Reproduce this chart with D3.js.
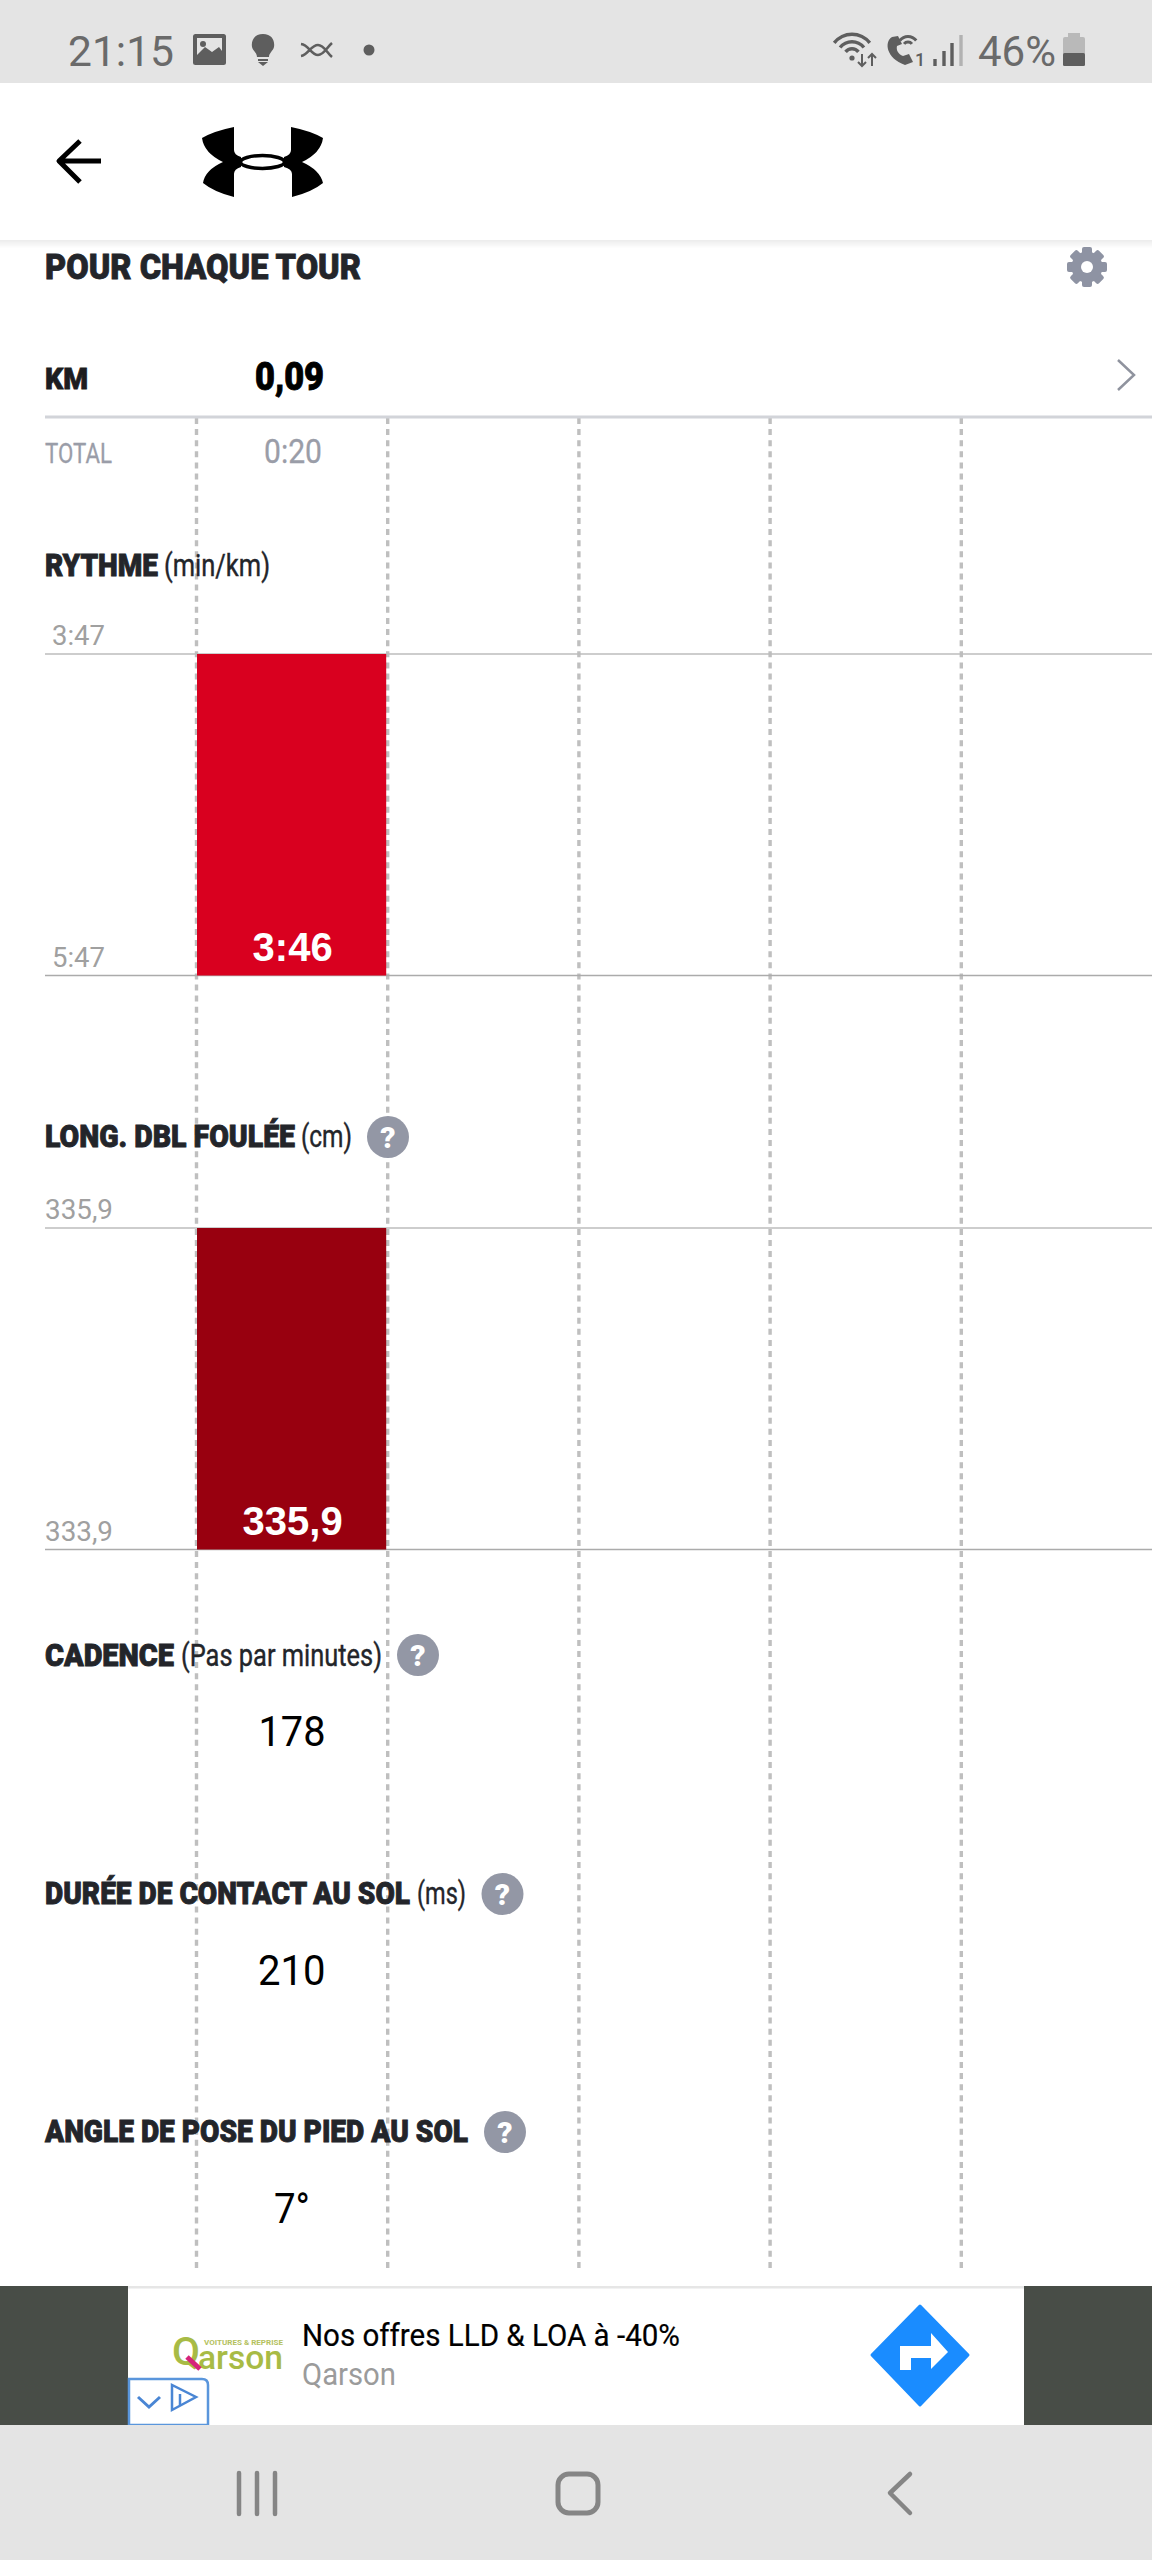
<!DOCTYPE html>
<html><head><meta charset="utf-8">
<style>html,body{margin:0;padding:0;background:#fff}svg{display:block}text{font-family:Roboto,sans-serif}</style>
<script src="https://cdn.jsdelivr.net/npm/d3@7"></script></head><body>
<svg id="c" width="1152" height="2560" viewBox="0 0 1152 2560"></svg>
<script>
// ---- data ----
const lapColumns = [0,1,2,3,4];
const lapKm = ["0,09"];
const lapTotal = ["0:20"];
const paceSeconds = [226];
const paceLabels = ["3:46"];
const paceTicks = ["3:47","5:47"];
const paceDomain = [227,347];
const strideValues = [335.9];
const strideLabels = ["335,9"];
const strideTicks = ["335,9","333,9"];
const strideDomain = [335.9,333.9];
const cadenceValues = ["178"];
const contactValues = ["210"];
const angleValues = ["7°"];

const svg = d3.select("#c");
const X = d3.scaleLinear().domain([0,5]).range([196,1152]);
const GRAY="#9a9da8", DARK="#23252a", DASH="#bfbfbf";

function txt(s,x,y,size,fill,opt={}){
  const t=svg.append("text").attr("x",x).attr("y",y).attr("font-size",size).attr("fill",fill).text(s);
  t.attr("font-weight",opt.w||400);
  if(opt.f) t.style("font-family",opt.f);
  if(opt.s) t.attr("stroke",fill).attr("stroke-width",opt.s);
  if(opt.len){t.attr("textLength",opt.len).attr("lengthAdjust","spacingAndGlyphs");}
  if(opt.a) t.attr("text-anchor",opt.a);
  return t;
}

// --- grid ---
svg.append("g").selectAll("line").data(lapColumns).join("line")
  .attr("x1",d=>X(d)+.5).attr("x2",d=>X(d)+.5).attr("y1",418).attr("y2",2268)
  .attr("stroke",DASH).attr("stroke-width",3.4).attr("stroke-dasharray","6 5.108");

// --- km row ---
svg.append("rect").attr("x",45).attr("y",415.5).attr("width",1107).attr("height",3).attr("fill","#d2d4d9");
txt("POUR CHAQUE TOUR",45,279,35,DARK,{w:900,len:316,s:.8});
txt("KM",45,389,30,"#1c1d20",{w:900,len:43,s:.8});
txt(lapKm[0],255,390,38,"#000",{w:900,len:69,s:.9});
txt("TOTAL",45,463,27,GRAY,{len:67,s:.3});
txt(lapTotal[0],264,463,33,GRAY,{len:58,s:.3});
svg.append("path").attr("d","M1118 360L1134 375L1118 390").attr("fill","none").attr("stroke","#8f939e").attr("stroke-width",2.5);

// --- bar panels ---
function panel(cfg){
  const y=d3.scaleLinear().domain(cfg.domain).range([cfg.top,cfg.bottom]).clamp(true);
  [cfg.domain[0],cfg.domain[1]].forEach((d,i)=>{
    svg.append("line").attr("x1",45).attr("x2",1152).attr("y1",y(d)).attr("y2",y(d)).attr("stroke",i?"#ababab":"#bcbcbc").attr("stroke-width",1.6);
    txt(cfg.ticks[i],cfg.tickX,y(d)-9,28,"#a0a0a0",{len:cfg.tickLen});
  });
  svg.append("g").selectAll("rect").data(cfg.values).join("rect")
    .attr("x",(d,i)=>X(i)+1).attr("width",(d,i)=>X(i+1)-X(i)-2)
    .attr("y",d=>y(d)).attr("height",d=>cfg.bottom-y(d)).attr("fill",cfg.color);
  svg.append("g").selectAll("text").data(cfg.labels).join("text")
    .attr("x",(d,i)=>(X(i)+X(i+1))/2+1).attr("y",cfg.bottom-14.5).attr("text-anchor","middle")
    .attr("fill","#fff").attr("font-size",40).attr("font-weight",700)
    .style("font-family","'Liberation Sans',sans-serif").text(d=>d);
}
panel({domain:paceDomain,top:654,bottom:975.5,values:paceSeconds,labels:paceLabels,ticks:paceTicks,color:"#d9001f",tickX:52,tickLen:53});
panel({domain:strideDomain,top:1228,bottom:1549.5,values:strideValues,labels:strideLabels,ticks:strideTicks,color:"#98000f",tickX:45,tickLen:68});

// --- section titles ---
function help(x,y){
  svg.append("circle").attr("cx",x).attr("cy",y).attr("r",21).attr("fill","#9397a5");
  txt("?",x,y+10.5,30,"#fff",{w:900,a:"middle"});
}
txt("RYTHME",45,576,31,DARK,{w:900,len:113,s:.9});
txt("(min/km)",164,576,31,DARK,{len:106,s:.4});
txt("LONG. DBL FOULÉE",45,1147,31,DARK,{w:900,len:250,s:.9});
txt("(cm)",301,1147,31,DARK,{len:51,s:.4});help(388,1137);
txt("CADENCE",45,1666,31,DARK,{w:900,len:129,s:.9});
txt("(Pas par minutes)",181,1666,31,DARK,{len:201,s:.4});help(418,1655);
txt("DURÉE DE CONTACT AU SOL",45,1904,31,DARK,{w:900,len:365,s:.9});
txt("(ms)",417,1904,31,DARK,{len:49,s:.4});help(502.5,1894);
txt("ANGLE DE POSE DU PIED AU SOL",45,2142,31,DARK,{w:900,len:423,s:.9});help(505,2132);

txt(cadenceValues[0],258.5,1746,43,"#000",{len:67});
txt(contactValues[0],258,1985,43,"#000",{len:67.5});
txt(angleValues[0],274,2223,43,"#000",{len:36});

// --- gear ---
const gear=svg.append("g").attr("transform","translate(1087,267)");
d3.range(8).forEach(i=>gear.append("rect").attr("x",-5).attr("y",-20).attr("width",10).attr("height",12).attr("rx",2).attr("fill","#8e93a3").attr("transform",`rotate(${i*45})`));
gear.append("circle").attr("r",15.5).attr("fill","#8e93a3");
gear.append("circle").attr("r",6).attr("fill","#fff");

// --- status bar ---
const SI="#5e5e5e";
svg.append("rect").attr("width",1152).attr("height",83).attr("fill","#e4e4e4");
txt("21:15",68,66,42,"#6a6a6a",{len:106});
svg.append("rect").attr("x",193).attr("y",34).attr("width",33).attr("height",31).attr("rx",2.5).attr("fill",SI);
svg.append("rect").attr("x",197).attr("y",38).attr("width",25).attr("height",20).attr("fill","#e4e4e4");
svg.append("path").attr("d","M197 58V55L205 47L212 52L219 47L222 51V58Z").attr("fill",SI);
svg.append("circle").attr("cx",203).attr("cy",44).attr("r",3).attr("fill",SI);
svg.append("path").attr("d","M263 34C254 34 251 41 252 47C253 51 257 53 257 57H269C269 53 273 51 274 47C275 41 272 34 263 34Z").attr("fill",SI);
svg.append("path").attr("d","M258 59H268V61H258ZM258 62H268L263 66Z").attr("fill",SI);
svg.append("path").attr("d","M301 44C309 45 311 55 318 55C324 55 327 47 332 43M301 56C308 55 311 45 318 45C324 45 327 53 332 57").attr("fill","none").attr("stroke",SI).attr("stroke-width",2.6);
svg.append("circle").attr("cx",369).attr("cy",50).attr("r",5.5).attr("fill",SI);
// wifi + call + signal
[21,13.5,6.5].forEach(r=>svg.append("path").attr("d",d3.arc()({innerRadius:r,outerRadius:r+3.4,startAngle:-0.9,endAngle:0.9})).attr("transform","translate(852,57)").attr("fill",SI));
svg.append("circle").attr("cx",852).attr("cy",58).attr("r",2.6).attr("fill",SI);
svg.append("path").attr("d","M862 54V66M858 62L862 66L866 62M872 66V54M868 58L872 54L876 58").attr("fill","none").attr("stroke",SI).attr("stroke-width",2);
svg.append("path").attr("d","M892 37C884 42 886 58 905 65L913 62L909 54L903 56C898 54 896 50 897 46L902 44L898 36Z").attr("fill",SI);
[9,3.5].forEach(r=>svg.append("path").attr("d",d3.arc()({innerRadius:r,outerRadius:r+3,startAngle:-0.9,endAngle:0.9})).attr("transform","translate(908,47)").attr("fill",SI));
txt("1",915,66,18,SI,{w:500});
[[935,59],[944,51],[952,43],[961,35]].forEach((d,i)=>svg.append("rect").attr("x",d[0]-1.7).attr("y",d[1]).attr("width",3.4).attr("height",66-d[1]).attr("fill",i==3?"#b2b2b2":SI));
txt("46%",978,66,42,"#6a6a6a",{len:78});
svg.append("rect").attr("x",1063).attr("y",37).attr("width",22).attr("height",29).attr("rx",2).attr("fill","#b9b9b9");
svg.append("rect").attr("x",1068).attr("y",33).attr("width",12).attr("height",5).attr("fill","#b9b9b9");
svg.append("rect").attr("x",1063).attr("y",53).attr("width",22).attr("height",13).attr("rx",1.5).attr("fill",SI);

// --- app bar ---
const sh=svg.append("g");
d3.range(8).forEach(i=>sh.append("rect").attr("x",0).attr("y",240+i).attr("width",1152).attr("height",1).attr("fill","#000").attr("opacity",0.07*(1-i/8)));
svg.append("path").attr("d","M101 161H62M80 141L59 161L80 182").attr("fill","none").attr("stroke","#000").attr("stroke-width",5).attr("stroke-linejoin","round");
svg.append("path").attr("fill","#000").attr("d","M234 127Q214 131 202 138Q204 153 223 162Q205 170 203 183Q214 192 234 197V174Q234 169 241 167V157Q234 155 234 150Z");
svg.append("path").attr("fill","#000").attr("d","M291 127Q311 131 323 138Q321 153 302 162Q320 170 323 183Q312 192 292 197V174Q292 169 284 167V157Q291 155 291 150Z");
svg.append("ellipse").attr("cx",262.5).attr("cy",162).attr("rx",22).attr("ry",6.5).attr("fill","#fff").attr("stroke","#000").attr("stroke-width",3.6);

// --- ad banner ---
svg.append("rect").attr("y",2286).attr("width",1152).attr("height",140).attr("fill","#484d47");
svg.append("rect").attr("x",128).attr("y",2286).attr("width",896).attr("height",139).attr("fill","#fff");
svg.append("rect").attr("x",128).attr("y",2286).attr("width",896).attr("height",2.5).attr("fill","#e6e6e6");
txt("Q",172,2365,38,"#a8bb45",{w:500,len:28});
txt("arson",198,2369,34,"#a8bb45",{w:500,len:85});
svg.append("path").attr("d","M187 2357L200 2369").attr("stroke","#d6247a").attr("stroke-width",5);
txt("VOITURES & REPRISE",204,2345,8,"#b4c15e",{w:700,len:79});
txt("Nos offres LLD & LOA à -40%",302,2346,31,"#000",{len:378,s:.2});
txt("Qarson",302,2385,31,"#9b9b9b",{len:94});
svg.append("path").attr("d","M920 2306L968 2355L920 2405L872 2355Z").attr("fill","#1a8cff").attr("stroke","#1a8cff").attr("stroke-width",3).attr("stroke-linejoin","round");
svg.append("path").attr("d","M900 2370V2346H931V2333L948 2352L931 2369V2358H911V2370Z").attr("fill","#fff");
svg.append("path").attr("d","M129 2425V2379H202Q208 2379 208 2385V2425Z").attr("fill","#fff").attr("stroke","#5a96dc").attr("stroke-width",2.5);
svg.append("path").attr("d","M138 2397L149 2407L160 2397").attr("fill","none").attr("stroke","#4a86d4").attr("stroke-width",3);
svg.append("path").attr("d","M172 2385V2410L196 2397Z").attr("fill","none").attr("stroke","#4a86d4").attr("stroke-width",2.5);
svg.append("path").attr("d","M180 2394V2405").attr("stroke","#4a86d4").attr("stroke-width",2.5);

// --- nav bar ---
svg.append("rect").attr("y",2425).attr("width",1152).attr("height",135).attr("fill","#e4e4e4");
[239,257,275].forEach(x=>svg.append("line").attr("x1",x).attr("x2",x).attr("y1",2473).attr("y2",2514).attr("stroke","#858585").attr("stroke-width",4.5).attr("stroke-linecap","round"));
svg.append("rect").attr("x",558).attr("y",2474).attr("width",40).attr("height",39).attr("rx",11).attr("fill","none").attr("stroke","#858585").attr("stroke-width",5);
svg.append("path").attr("d","M910 2474L890 2493L910 2513").attr("fill","none").attr("stroke","#858585").attr("stroke-width",4.5).attr("stroke-linecap","round").attr("stroke-linejoin","round");
</script></body></html>
